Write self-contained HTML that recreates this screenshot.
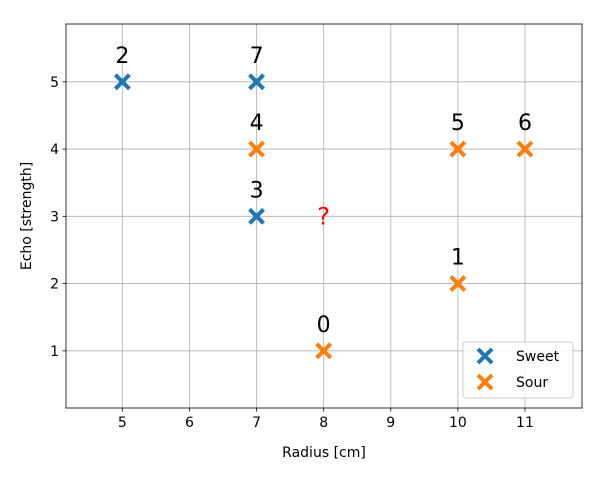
<!DOCTYPE html>
<html><head><meta charset="utf-8"><style>
body{margin:0;background:#fff}
svg{font-family:"DejaVu Sans","Liberation Sans",sans-serif}
</style></head><body>
<svg id="c" width="600" height="480" xmlns="http://www.w3.org/2000/svg"></svg>
<script>
const sweetX=[5,7,7], sweetY=[5,5,3], sweetLbl=["2","7","3"];
const sourX=[7,10,11,10,8], sourY=[4,4,4,2,1], sourLbl=["4","5","6","1","0"];
const queryX=[8], queryY=[3];
const xTicks=[5,6,7,8,9,10,11], yTicks=[1,2,3,4,5];
const L=66,R=582,T=24,B=408, xmin=4.16,xmax=11.85,ymin=0.15,ymax=5.86;
const sx=v=>L+(v-xmin)/(xmax-xmin)*(R-L), sy=v=>B-(v-ymin)/(ymax-ymin)*(B-T);
const svg=document.getElementById('c'), NS='http://www.w3.org/2000/svg';
function mk(t,a,p){const e=document.createElementNS(NS,t);for(const k in a)e.setAttribute(k,a[k]);(p||svg).appendChild(e);return e;}
mk('rect',{x:0,y:0,width:600,height:480,fill:'#fff'});
xTicks.forEach(v=>{const x=sx(v);
 const g=mk('line',{x1:x,x2:x,y1:T,y2:B,stroke:'#b0b0b0','stroke-width':0.8});
 
 
 mk('line',{x1:x,x2:x,y1:B,y2:B+3.5,stroke:'#000','stroke-width':0.8});
 const t=mk('text',{x:x,y:B+19,'text-anchor':'middle','font-size':14});t.textContent=v;
 
 });
yTicks.forEach(v=>{const y=sy(v);
 const g=mk('line',{x1:L,x2:R,y1:y,y2:y,stroke:'#b0b0b0','stroke-width':0.8});
 
 
 mk('line',{x1:L-3.5,x2:L,y1:y,y2:y,stroke:'#000','stroke-width':0.8});
 const t=mk('text',{x:L-7,y:y+5,'text-anchor':'end','font-size':14});t.textContent=v;
 
 });
const fr=mk('rect',{x:L,y:T,width:R-L,height:B-T,fill:'none',stroke:'#000','stroke-width':0.8});


function cross(x,y,c,s){const g=mk('g',{stroke:c,'stroke-width':4});
 mk('line',{x1:x-s,y1:y-s,x2:x+s,y2:y+s},g);mk('line',{x1:x-s,y1:y+s,x2:x+s,y2:y-s},g);return g;}
function series(X,Y,Lb,c,name){X.forEach((v,i)=>{const x=sx(v),y=sy(Y[i]);
 const g=cross(x,y,c,7);
 
 
 const t=mk('text',{x:x,y:y-19,'text-anchor':'middle','font-size':22});t.textContent=Lb[i];
 
 });}
series(sweetX,sweetY,sweetLbl,'#1f77b4','sweet');
series(sourX,sourY,sourLbl,'#ff7f0e','sour');
queryX.forEach((v,i)=>{const t=mk('text',{x:sx(v),y:sy(queryY[i])+8,'text-anchor':'middle','font-size':24,fill:'red'});t.textContent='?';
 
 });
const xt=mk('text',{x:(L+R)/2,y:457,'text-anchor':'middle','font-size':14});xt.textContent='Radius [cm]';


const yt=mk('text',{x:31,y:(T+B)/2,'text-anchor':'middle','font-size':14,transform:`rotate(-90 31 ${(T+B)/2})`});yt.textContent='Echo [strength]';


const lg=mk('g',{});


mk('rect',{x:463,y:342,width:110,height:56,rx:3,fill:'#fff','fill-opacity':0.8,stroke:'#ccc'},lg);
[['Sweet','#1f77b4',356],['Sour','#ff7f0e',382]].forEach(([n,c,y])=>{
 const g=cross(485,y,c,7);lg.appendChild(g);
 
 
 const t=mk('text',{x:516,y:y+5,'font-size':14},lg);t.textContent=n;
 
 });
</script>
</body></html>
